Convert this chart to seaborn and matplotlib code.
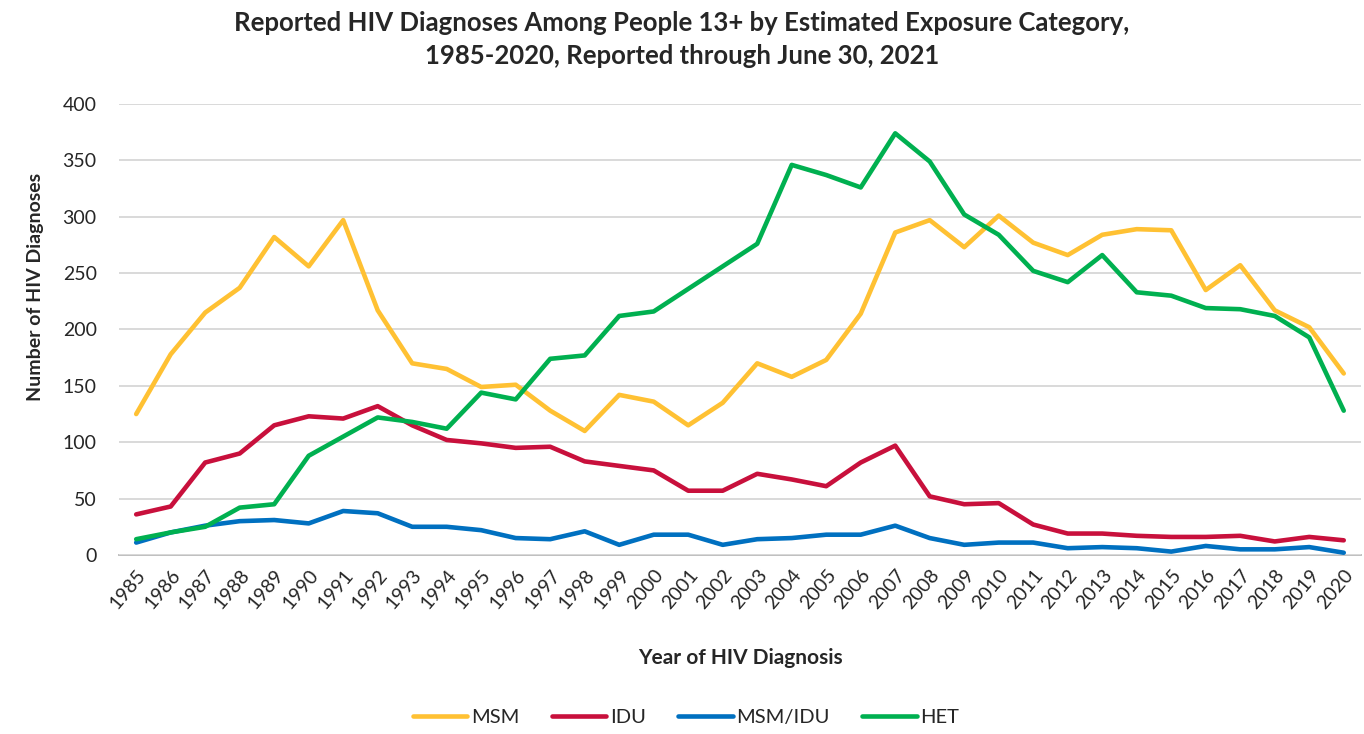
import pandas as pd
import matplotlib
matplotlib.use('Agg')
import matplotlib.pyplot as plt
import seaborn as sns

# values
years = list(range(1985, 2021))
msm = [125, 178, 215, 237, 282, 256, 297, 217, 170, 165, 149, 151, 128, 110, 142, 136,
       115, 135, 170, 158, 173, 214, 286, 297, 273, 301, 277, 266, 284, 289, 288, 235,
       257, 217, 202, 161]
idu = [36, 43, 82, 90, 115, 123, 121, 132, 115, 102, 99, 95, 96, 83, 79, 75,
       57, 57, 72, 67, 61, 82, 97, 52, 45, 46, 27, 19, 19, 17, 16, 16,
       17, 12, 16, 13]
msm_idu = [11, 20, 26, 30, 31, 28, 39, 37, 25, 25, 22, 15, 14, 21, 9, 18,
           18, 9, 14, 15, 18, 18, 26, 15, 9, 11, 11, 6, 7, 6, 3, 8,
           5, 5, 7, 2]
het = [14, 20, 25, 42, 45, 88, 105, 122, 118, 112, 144, 138, 174, 177, 212, 216,
       236, 256, 276, 346, 337, 326, 374, 349, 302, 284, 252, 242, 266, 233, 230, 219,
       218, 212, 193, 128]

categories = ['MSM', 'IDU', 'MSM/IDU', 'HET']
colors = ['#FFC133', '#C8103C', '#0070C0', '#00B050']

df = pd.DataFrame({'MSM': msm, 'IDU': idu, 'MSM/IDU': msm_idu, 'HET': het}, index=years)
long_df = df.reset_index().melt(id_vars='index', var_name='Category', value_name='Count')
long_df = long_df.rename(columns={'index': 'Year'})

sns.set_style('white')
plt.rcParams['font.family'] = ['Lato', 'DejaVu Sans']

fig = plt.figure(figsize=(13.64, 7.34), dpi=100)
ax = fig.add_axes([0.0872, 0.2439, 0.9106, 0.6144])

sns.lineplot(data=long_df, x='Year', y='Count', hue='Category', hue_order=categories,
             palette=colors, linewidth=3.3, ax=ax, legend=False)

ax.set_xlim(1984.5, 2020.5)
ax.set_ylim(0, 400)
ax.set_yticks(range(0, 401, 50))
ax.set_xticks(years)
ax.set_xticklabels([str(y) for y in years], rotation=50, ha='right', rotation_mode='anchor')
ax.set_xticks([y - 0.5 for y in years] + [2020.5], minor=True)
ax.tick_params(axis='x', which='major', length=0, labelsize=14, pad=8)
ax.tick_params(axis='x', which='minor', length=6, color='#BFBFBF', width=1.3)
ax.tick_params(axis='y', length=0, labelsize=14, pad=16)

ax.grid(axis='y', color='#D9D9D9', linewidth=1.4)
ax.set_axisbelow(True)
for s in ['left', 'right', 'top']:
    ax.spines[s].set_visible(False)
ax.spines['bottom'].set_color('#BFBFBF')
ax.spines['bottom'].set_linewidth(1.4)
ax.spines['bottom'].set_zorder(0.5)

ax.set_xlabel('Year of HIV Diagnosis', fontsize=15, fontweight='bold', labelpad=26)
ax.set_ylabel('Number of HIV Diagnoses', fontsize=14, fontweight='bold')
ax.yaxis.set_label_coords(-0.060, 0.594)

fig.suptitle('Reported HIV Diagnoses Among People 13+ by Estimated Exposure Category,\n'
             '1985-2020, Reported through June 30, 2021',
             fontsize=18.5, fontweight='bold', y=0.985, linespacing=1.45)

handles = [plt.Line2D([0], [0], color=c, linewidth=3.3) for c in colors]
fig.legend(handles, categories, loc='center', bbox_to_anchor=(0.503, 0.022), ncol=4,
           frameon=False, fontsize=14.5, handlelength=2.7, columnspacing=1.6, handletextpad=0.2)

fig.savefig('out.png', dpi=100)
